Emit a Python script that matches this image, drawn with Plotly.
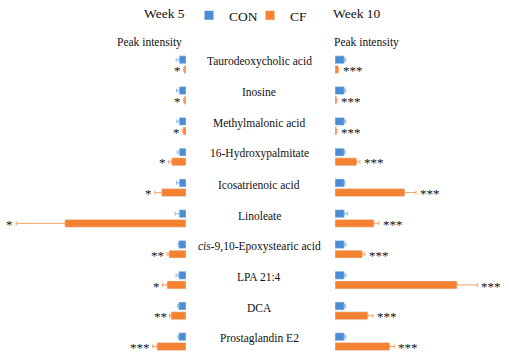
import plotly.graph_objects as go
from plotly.subplots import make_subplots

metabolites = ["Taurodeoxycholic acid", "Inosine", "Methylmalonic acid", "16-Hydroxypalmitate",
               "Icosatrienoic acid", "Linoleate", "<i>cis</i>-9,10-Epoxystearic acid", "LPA 21:4",
               "DCA", "Prostaglandin E2"]

# Week 5 (relative peak intensity)
w5_con = [1.0, 1.0, 1.0, 1.0, 1.0, 1.0, 1.07, 1.07, 1.07, 1.07]
w5_con_err = [0.44, 0.40, 0.34, 0.30, 0.40, 0.60, 0.08, 0.38, 0.15, 0.12]
w5_cf = [0.29, 0.29, 0.44, 2.10, 3.57, 17.8, 2.50, 2.79, 2.20, 4.26]
w5_cf_err = [0.05, 0.05, 0.05, 0.44, 1.03, 7.16, 0.29, 0.65, 0.21, 0.65]
w5_sig = ["*", "*", "*", "*", "*", "*", "**", "*", "**", "***"]

# Week 10 (relative peak intensity)
w10_con = [1.0, 1.0, 1.0, 1.0, 1.0, 1.0, 1.0, 1.0, 1.0, 1.0]
w10_con_err = [0.15, 0.15, 0.15, 0.08, 0.08, 0.32, 0.18, 0.18, 0.11, 0.18]
w10_cf = [0.35, 0.18, 0.18, 2.33, 7.49, 4.19, 2.94, 13.12, 3.52, 5.88]
w10_cf_err = [0.03, 0.02, 0.02, 0.35, 1.22, 0.51, 0.26, 2.18, 0.54, 0.49]
w10_sig = ["***"] * 10

BLUE = "#4A8DD3"
ORANGE = "#F58230"
BLUE_ERR = "#8DB8E6"
ORANGE_ERR = "#F7A06A"
SERIF = "Liberation Serif, Times New Roman, serif"

W, H = 509, 357
fig = make_subplots(rows=1, cols=2, shared_yaxes=False, horizontal_spacing=0)

def err(arr, color):
    return dict(type="data", array=arr, arrayminus=[0] * len(arr), symmetric=False,
                color=color, thickness=1, width=2)

fig.add_trace(go.Bar(y=metabolites, x=w5_con, orientation="h", marker_color=BLUE,
                     error_x=err(w5_con_err, BLUE_ERR), showlegend=False), row=1, col=1)
fig.add_trace(go.Bar(y=metabolites, x=w5_cf, orientation="h", marker_color=ORANGE,
                     error_x=err(w5_cf_err, ORANGE_ERR), showlegend=False), row=1, col=1)
fig.add_trace(go.Bar(y=metabolites, x=w10_con, orientation="h", marker_color=BLUE,
                     error_x=err(w10_con_err, BLUE_ERR), showlegend=False), row=1, col=2)
fig.add_trace(go.Bar(y=metabolites, x=w10_cf, orientation="h", marker_color=ORANGE,
                     error_x=err(w10_cf_err, ORANGE_ERR), showlegend=False), row=1, col=2)

# legend entries
fig.add_trace(go.Scatter(x=[None], y=[None], mode="markers", name="CON",
                         marker=dict(symbol="square", size=9, color=BLUE)), row=1, col=1)
fig.add_trace(go.Scatter(x=[None], y=[None], mode="markers", name="CF",
                         marker=dict(symbol="square", size=9, color=ORANGE)), row=1, col=1)

left_zero, right_zero = 186, 335
left_unit, right_unit = 6.8, 9.3
ydom = [0, 0.862]

fig.update_layout(
    width=W, height=H, margin=dict(l=0, r=0, t=0, b=0),
    paper_bgcolor="white", plot_bgcolor="white",
    barmode="group", bargap=0.37, bargroupgap=0.18,
    font=dict(family=SERIF, size=12, color="#111"),
    legend=dict(orientation="h", x=189 / W, y=1, xanchor="left", yanchor="top",
                font=dict(size=13.5, family=SERIF), itemwidth=30, entrywidth=16,
                bgcolor="rgba(0,0,0,0)"),
    xaxis=dict(domain=[0, left_zero / W], range=[left_zero / left_unit, 0], visible=False),
    xaxis2=dict(domain=[right_zero / W, 1], range=[0, (W - right_zero) / right_unit], visible=False),
    yaxis=dict(domain=ydom, range=[9.5, -0.5], visible=False),
    yaxis2=dict(domain=ydom, range=[9.5, -0.5], visible=False),
)

ann = []
for i, name in enumerate(metabolites):
    ann.append(dict(x=259 / W, xref="paper", y=name, yref="y", text=name, showarrow=False,
                    xanchor="center", yanchor="middle", yshift=3,
                    font=dict(size=11.5, family=SERIF, color="#111")))
    ann.append(dict(x=w5_cf[i] + w5_cf_err[i], xref="x", y=name, yref="y", text=w5_sig[i],
                    showarrow=False, xanchor="right", yanchor="middle", xshift=-1, yshift=-6,
                    font=dict(size=13, family=SERIF, color="#111")))
    ann.append(dict(x=w10_cf[i] + w10_cf_err[i], xref="x2", y=name, yref="y2", text=w10_sig[i],
                    showarrow=False, xanchor="left", yanchor="middle", xshift=2, yshift=-6,
                    font=dict(size=13, family=SERIF, color="#111")))

ann += [
    dict(x=164 / W, y=1 - 14 / H, xref="paper", yref="paper", text="Week 5", showarrow=False,
         xanchor="center", yanchor="middle", font=dict(size=13.5, family=SERIF, color="#111")),
    dict(x=357 / W, y=1 - 14 / H, xref="paper", yref="paper", text="Week 10", showarrow=False,
         xanchor="center", yanchor="middle", font=dict(size=13.5, family=SERIF, color="#111")),
    dict(x=149 / W, y=1 - 42 / H, xref="paper", yref="paper", text="Peak intensity", showarrow=False,
         xanchor="center", yanchor="middle", font=dict(size=11.5, family=SERIF, color="#111")),
    dict(x=366 / W, y=1 - 42 / H, xref="paper", yref="paper", text="Peak intensity", showarrow=False,
         xanchor="center", yanchor="middle", font=dict(size=11.5, family=SERIF, color="#111")),
]
fig.update_layout(annotations=ann)

fig.write_html("out.html", config={"displayModeBar": False},
               post_script="document.body.style.margin='0px';")
